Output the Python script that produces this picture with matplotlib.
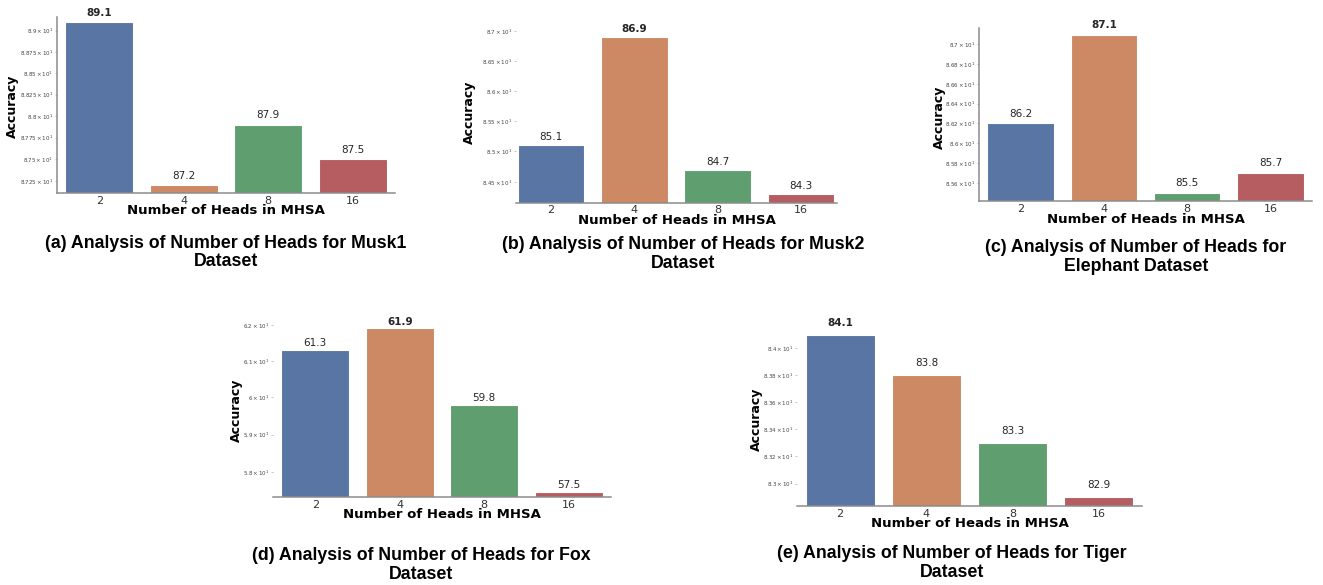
import numpy as np
import matplotlib
matplotlib.use("Agg")
import matplotlib.pyplot as plt

heads = ["2", "4", "8", "16"]
acc_musk1 = [89.1, 87.2, 87.9, 87.5]
acc_musk2 = [85.1, 86.9, 84.7, 84.3]
acc_elephant = [86.2, 87.1, 85.5, 85.7]
acc_fox = [61.3, 61.9, 59.8, 57.5]
acc_tiger = [84.1, 83.8, 83.3, 82.9]

captions = [
    "(a) Analysis of Number of Heads for Musk1\nDataset",
    "(b) Analysis of Number of Heads for Musk2\nDataset",
    "(c) Analysis of Number of Heads for\nElephant Dataset",
    "(d) Analysis of Number of Heads for Fox\nDataset",
    "(e) Analysis of Number of Heads for Tiger\nDataset",
]

# seaborn "deep" at barplot saturation
colors = ["#5975a4", "#cc8963", "#5f9e6e", "#b55d60"]

W, H = 1323, 585
fig = plt.figure(figsize=(W / 100, H / 100), dpi=100)

# panel boxes in pixels: left, right, top, bottom
panels = [
    dict(vals=acc_musk1, box=(57, 395, 17, 193), ylim=(87.11, 89.16), xlim=(-0.5, 3.5),
         left=True, ylab=(-0.112, 0.49), cap=(226, 252.5)),
    dict(vals=acc_musk2, box=(516, 837, 29.5, 202.7), ylim=(84.16, 87.03), xlim=(-0.42, 3.43),
         left=False, ylab=(-0.125, 0.52), cap=(683, 254)),
    dict(vals=acc_elephant, box=(979, 1312, 27.7, 201.3), ylim=(85.42, 87.17), xlim=(-0.5, 3.5),
         left=True, ylab=(-0.099, 0.486), cap=(1136, 257)),
    dict(vals=acc_fox, box=(273, 611, 323, 497), ylim=(57.36, 62.05), xlim=(-0.5, 3.5),
         left=False, ylab=(-0.089, 0.5), cap=(421, 565)),
    dict(vals=acc_tiger, box=(797, 1142, 330.7, 506), ylim=(82.835, 84.13), xlim=(-0.5, 3.5),
         left=False, ylab=(-0.099, 0.496), cap=(952, 563)),
]

for p, cap in zip(panels, captions):
    l, r, t, b = p["box"]
    ax = fig.add_axes([l / W, 1 - b / H, (r - l) / W, (b - t) / H])
    vals = p["vals"]
    x = np.arange(len(heads))
    ax.bar(x, vals, width=0.8, color=colors, edgecolor="white", linewidth=0.8)
    ax.set_yscale("log")
    ax.set_ylim(*p["ylim"])
    ax.set_xlim(*p["xlim"])
    ax.set_xticks(x)
    ax.set_xticklabels(heads)

    best = int(np.argmax(vals))
    for i, v in enumerate(vals):
        ax.text(i, v + 0.05, f"{v:.1f}", ha="center", va="bottom", fontsize=7.5,
                color="#262626", fontweight="bold" if i == best else "normal")

    for s in ["top", "right"]:
        ax.spines[s].set_visible(False)
    ax.spines["left"].set_visible(p["left"])
    for s in ["left", "bottom"]:
        ax.spines[s].set_color("#8c8c8c")
        ax.spines[s].set_linewidth(1.1)

    ax.tick_params(axis="x", length=0, labelsize=8, labelcolor="#333333", pad=2)
    ax.tick_params(axis="y", which="both", labelsize=4, labelcolor="#444444",
                   length=1.2, width=0.4, color="#999999", pad=1.5)

    ax.set_ylabel("Accuracy", fontsize=9, fontweight="bold")
    ax.yaxis.set_label_coords(*p["ylab"])
    ax.set_xlabel("Number of Heads in MHSA", fontsize=9.5, fontweight="bold")
    ax.xaxis.set_label_coords(0.5, -0.065)

    cx, cy = p["cap"]
    fig.text(cx / W, 1 - cy / H, cap, ha="center", va="center", ma="center",
             fontsize=12.8, fontweight="bold", family="Liberation Sans", linespacing=1.15)

fig.savefig("out.png", dpi=100)
